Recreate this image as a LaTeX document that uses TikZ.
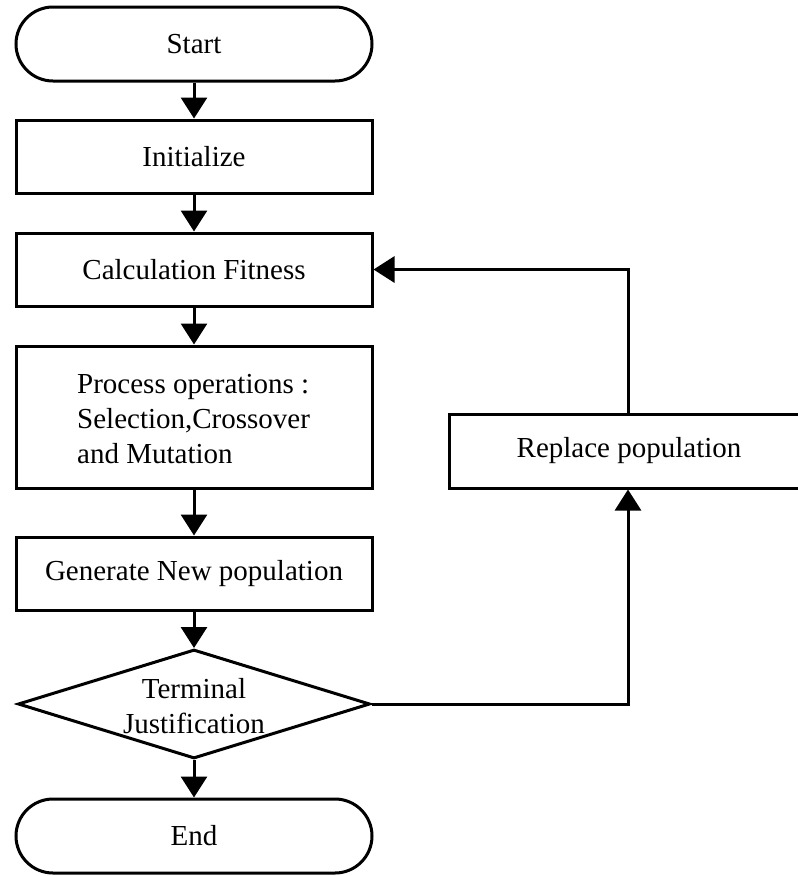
\documentclass[tikz,border=0pt]{standalone}
\usepackage{fontspec}
\setmainfont{Liberation Serif}
\usetikzlibrary{arrows.meta,shapes.geometric}
\begin{document}
\begin{tikzpicture}[x=1pt,y=-1pt,
  every node/.style={font=\fontsize{29}{35}\selectfont},
  box/.style={draw,line width=3pt,rectangle,minimum width=356pt,minimum height=73pt,inner sep=0pt},
  term/.style={box,rounded corners=37pt,minimum height=74pt},
  flow/.style={line width=3pt,-{Triangle[length=21pt,width=26pt]}},
  plain/.style={line width=3pt}]
  \clip (0,0) rectangle (798,876);
  \useasboundingbox (0,0) rectangle (798,876);

  % main column
  \node[term] (start) at (194,44) {Start};
  \node[box] (init) at (194,156.5) {Initialize};
  \node[box] (calc) at (194,269.5) {Calculation Fitness};
  \node[box,minimum height=142pt] (proc) at (194,417) {};
  \node[anchor=west,align=left,inner sep=0pt] (proctext) at (77,419)
    {Process operations :\\Selection,Crossover\\and Mutation};
  \node[box] (gen) at (194,573.5) {Generate New population};
  \node[draw,line width=3pt,diamond,minimum width=352pt,minimum height=109pt,inner sep=0pt] (dec) at (194,704) {};
  \node[align=center,inner sep=0pt] (dectext) at (194,706) {Terminal\\Justification};
  \node[term] (end) at (194,836) {End};

  % loop-back box
  \node[box,minimum width=358pt,minimum height=74pt] (repl) at (628,451) {};
  \node[inner sep=0pt] (repltext) at (629,451) {Replace population};

  % connectors
  \draw[flow] (start) -- (init);
  \draw[flow] (init) -- (calc);
  \draw[flow] (calc) -- (proc);
  \draw[flow] (proc) -- (gen);
  \draw[flow] (gen) -- (dec.north);
  \draw[flow] (dec.south) -- (end);
  \draw[flow] (dec.east) -| (repl.south);
  \draw[flow] (repl.north) |- (calc.east);
\end{tikzpicture}
\end{document}
